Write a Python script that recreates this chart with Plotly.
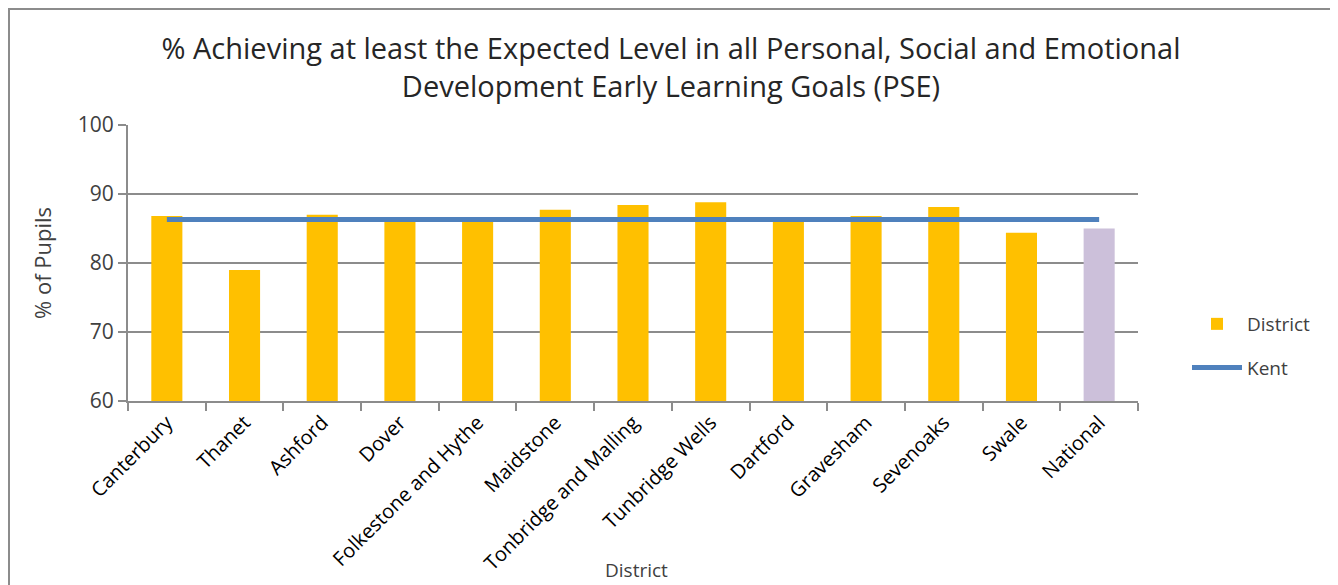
import plotly.graph_objects as go

districts = ["Canterbury", "Thanet", "Ashford", "Dover", "Folkestone and Hythe", "Maidstone",
             "Tonbridge and Malling", "Tunbridge Wells", "Dartford", "Gravesham", "Sevenoaks",
             "Swale", "National"]
district_pct = [86.8, 79.0, 87.0, 86.1, 86.0, 87.7, 88.4, 88.8, 86.2, 86.8, 88.1, 84.4, 85.0]
kent_pct = [86.3] * len(districts)

FONT = "Open Sans"
TEXT = "#404040"
GRID = "#8c8c8c"

# page body has an 8px margin, so the figure is sized/offset to land where the reference sits
OFF = 8
W, H = 1338 - OFF, 585 - OFF
L, T = 128 - OFF, 125 - OFF
pw, ph = 1010, 276
R, B = W - L - pw, H - T - ph

bar_colors = ["#FFC000"] * (len(districts) - 1) + ["#CCC0DA"]

fig = go.Figure()
fig.add_trace(go.Bar(x=districts, y=district_pct, name="District", width=0.4, legendgroup="d",
                     marker=dict(color=bar_colors, line=dict(width=0))))
fig.add_trace(go.Scatter(x=districts, y=kent_pct, name="Kent", mode="lines", legendgroup="k",
                         line=dict(color="#4F81BD", width=5)))

fig.update_layout(
    width=W, height=H,
    margin=dict(l=L, r=R, t=T, b=B, autoexpand=False),
    paper_bgcolor="white", plot_bgcolor="white",
    font=dict(family=FONT, size=18, color=TEXT),
    title=dict(text="% Achieving at least the Expected Level in all Personal, Social and Emotional<br>Development Early Learning Goals (PSE)",
               x=(671 - OFF) / W, xref="container", xanchor="center", y=1 - 51 / H,
               yref="container", yanchor="top",
               font=dict(family=FONT, size=29, color="#262626")),
    legend=dict(x=(1187 - 128) / pw, xanchor="left", y=(401 - 346) / ph,
                yanchor="middle", font=dict(size=19, color=TEXT), traceorder="grouped",
                tracegroupgap=16, itemwidth=50, bgcolor="rgba(0,0,0,0)"),
    showlegend=True,
)
fig.update_xaxes(showline=True, linecolor=GRID, linewidth=2, ticks="outside", tickson="boundaries",
                 ticklen=8, tickcolor=GRID, tickwidth=2, tickangle=-45, showgrid=False,
                 tickfont=dict(size=20, color="#000000"), automargin=False)
fig.update_yaxes(range=[60, 100], dtick=10, showline=True, linecolor=GRID, linewidth=2,
                 showgrid=True, gridcolor=GRID, gridwidth=2, ticks="outside", ticklen=8,
                 tickcolor=GRID, tickwidth=2, tickfont=dict(size=21, color=TEXT), automargin=False,
                 title=dict(text="% of Pupils", standoff=20, font=dict(size=22, color=TEXT)))

fig.add_annotation(text="District", x=(636 - 128) / pw, xref="paper", y=(401 - 570) / ph, yref="paper",
                   showarrow=False, yanchor="middle", font=dict(size=19, color=TEXT))

# outer chart border (kept just inside the figure so it is not clipped)
fig.add_shape(type="rect", xref="paper", yref="paper",
              x0=(9 - 128) / pw, x1=(1333 - 128) / pw, y0=(401 - 640) / ph, y1=(401 - 9) / ph,
              line=dict(color="#8c8c8c", width=2), layer="below")

fig.write_html("out.html")
